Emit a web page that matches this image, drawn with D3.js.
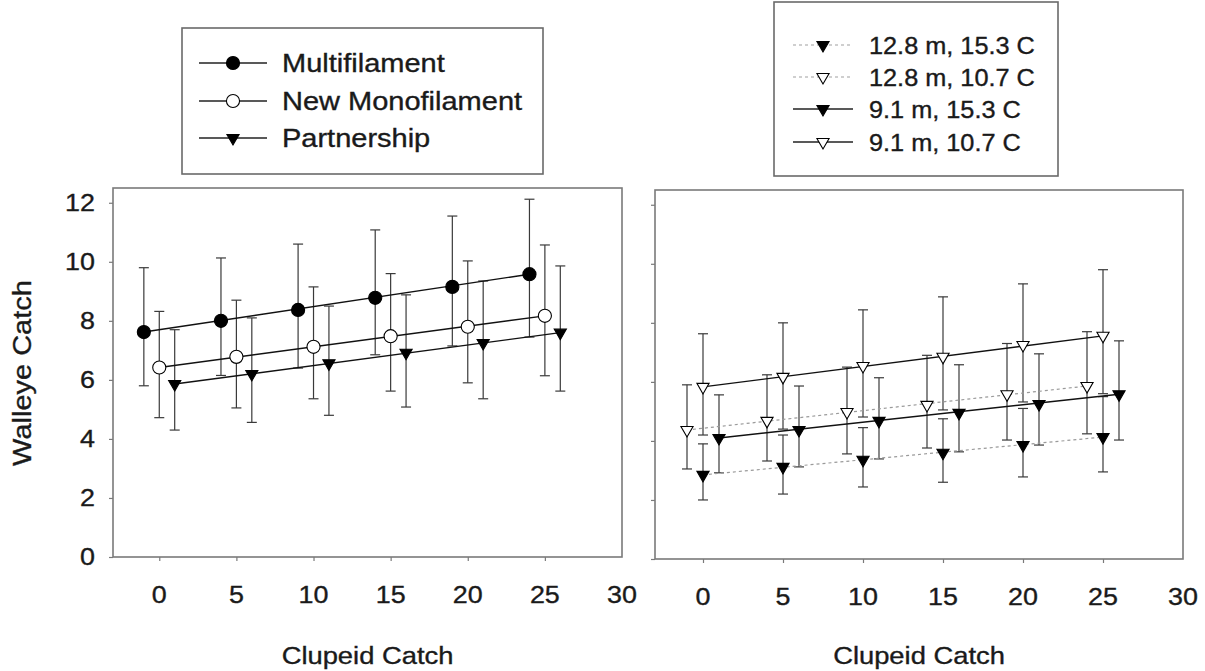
<!DOCTYPE html>
<html>
<head>
<meta charset="utf-8">
<script src="https://cdn.jsdelivr.net/npm/d3@7"></script>
<style>
  body { margin: 0; background: #fff; }
  text { font-family: "Liberation Sans", Arial, sans-serif; fill: #1a1a1a; stroke: #1a1a1a; stroke-width: 0.35; }
</style>
</head>
<body>
<svg id="chart" width="1205" height="671"></svg>
<script>
// CHART DATA

const clupeidCatch = [0, 5, 10, 15, 20, 25];
const xTicks = [0, 5, 10, 15, 20, 25, 30];
const yTicks = [0, 2, 4, 6, 8, 10, 12];

// left panel: gear type
const multiMean = [7.62, 8.0, 8.37, 8.78, 9.15, 9.58];
const multiHigh = [9.8, 10.13, 10.6, 11.08, 11.55, 12.12];
const multiLow = [5.8, 6.15, 6.4, 6.85, 7.15, 7.45];
const monoMean = [6.42, 6.78, 7.12, 7.48, 7.8, 8.17];
const monoHigh = [8.32, 8.7, 9.15, 9.6, 10.03, 10.57];
const monoLow = [4.72, 5.05, 5.36, 5.62, 5.9, 6.14];
const partMean = [5.86, 6.2, 6.56, 6.92, 7.25, 7.6];
const partHigh = [7.7, 8.1, 8.5, 8.88, 9.35, 9.86];
const partLow = [4.3, 4.56, 4.8, 5.08, 5.36, 5.62];

// right panel: depth and temperature
const deepWarmMean = [2.85, 3.12, 3.36, 3.6, 3.86, 4.13];
const deepWarmHigh = [3.9, 4.2, 4.45, 4.75, 5.1, 5.5];
const deepWarmLow = [2.0, 2.2, 2.44, 2.6, 2.78, 2.95];
const deepCoolMean = [4.37, 4.68, 4.98, 5.22, 5.58, 5.86];
const deepCoolHigh = [5.9, 6.24, 6.5, 6.9, 7.3, 7.7];
const deepCoolLow = [3.05, 3.32, 3.56, 3.76, 4.03, 4.24];
const shallowWarmMean = [4.1, 4.37, 4.68, 4.95, 5.25, 5.58];
const shallowWarmHigh = [5.56, 5.86, 6.14, 6.58, 6.95, 7.39];
const shallowWarmLow = [2.92, 3.12, 3.39, 3.63, 3.86, 4.03];
const shallowCoolMean = [5.83, 6.17, 6.54, 6.85, 7.25, 7.56];
const shallowCoolHigh = [7.63, 8.0, 8.44, 8.88, 9.32, 9.8];
const shallowCoolLow = [4.2, 4.4, 4.81, 5.05, 5.32, 5.6];

const leftSeries = [
    { label: 'Multifilament', mean: multiMean, high: multiHigh, low: multiLow, offset: -1, symbol: 'circle', fill: '#000', dotted: false },
    { label: 'New Monofilament', mean: monoMean, high: monoHigh, low: monoLow, offset: 0, symbol: 'circle', fill: '#fff', dotted: false },
    { label: 'Partnership', mean: partMean, high: partHigh, low: partLow, offset: 1, symbol: 'triangle', fill: '#000', dotted: false }
];
const rightSeries = [
    { label: '12.8 m, 15.3 C', mean: deepWarmMean, high: deepWarmHigh, low: deepWarmLow, offset: 0, symbol: 'triangle', fill: '#000', dotted: true },
    { label: '12.8 m, 10.7 C', mean: deepCoolMean, high: deepCoolHigh, low: deepCoolLow, offset: -1, symbol: 'triangle', fill: '#fff', dotted: true },
    { label: '9.1 m, 15.3 C', mean: shallowWarmMean, high: shallowWarmHigh, low: shallowWarmLow, offset: 1, symbol: 'triangle', fill: '#000', dotted: false },
    { label: '9.1 m, 10.7 C', mean: shallowCoolMean, high: shallowCoolHigh, low: shallowCoolLow, offset: 0, symbol: 'triangle', fill: '#fff', dotted: false }
];

const svg = d3.select('#chart');
const FRAME = '#7a7a7a';

function markerPath(kind) {
    if (kind === 'circle') return d3.symbol(d3.symbolCircle, 135)();
    return d3.symbol(d3.symbolTriangle, 64)();
}

function drawMarker(g, kind, fill, x, y) {
    g.append('path')
        .attr('d', markerPath(kind))
        .attr('transform', `translate(${x},${y})` + (kind === 'triangle' ? ' rotate(180)' : ''))
        .attr('fill', fill)
        .attr('stroke', '#000')
        .attr('stroke-width', 1.1);
}

// text in the figure is a bit wider than Liberation Sans, so stretch it
function stretchedText(g, x, y, str, size, anchor, rotate, sx = 1.12) {
    return g.append('text')
        .attr('transform', `translate(${x},${y})` + (rotate ? ` rotate(${rotate})` : '') + ` scale(${sx},1)`)
        .attr('font-size', size)
        .attr('text-anchor', anchor)
        .text(str);
}

function drawPanel(box, series, showYLabels) {
    const x = d3.scaleLinear().domain([-3, 30]).range([box.left, box.right]);
    const y = d3.scaleLinear().domain([0, 12.5]).range([box.bottom, box.top]);
    const g = svg.append('g');

    // frame
    g.append('rect')
        .attr('x', box.left).attr('y', box.top)
        .attr('width', box.right - box.left).attr('height', box.bottom - box.top)
        .attr('fill', 'none').attr('stroke', FRAME).attr('stroke-width', 1.6);

    // axes (outward ticks, no domain line)
    const xAxis = g.append('g')
        .attr('transform', `translate(0,${box.bottom})`)
        .call(d3.axisBottom(x).tickValues(xTicks.slice(0, -1)).tickSize(4).tickFormat(''));
    const yAxis = g.append('g')
        .attr('transform', `translate(${box.left},0)`)
        .call(d3.axisLeft(y).tickValues(yTicks).tickSize(4).tickFormat(''));
    [xAxis, yAxis].forEach(a => {
        a.select('.domain').remove();
        a.selectAll('line').attr('stroke', FRAME).attr('stroke-width', 1.2);
    });

    xTicks.forEach(t => stretchedText(g, x(t), box.bottom + 46, t, 24, 'middle'));
    if (showYLabels) {
        yTicks.forEach(t => stretchedText(g, box.left - 18, y(t) + 8, t, 24, 'end'));
    }
    stretchedText(g, (box.left + box.right) / 2, 664, 'Clupeid Catch', 24, 'middle', 0, 1.14);

    // error bars
    series.forEach(s => {
        clupeidCatch.forEach((c, i) => {
            const cx = x(c + s.offset);
            g.append('line')
                .attr('x1', cx).attr('x2', cx)
                .attr('y1', y(s.high[i])).attr('y2', y(s.low[i]))
                .attr('stroke', '#3a3a3a').attr('stroke-width', 1.2);
            [s.high[i], s.low[i]].forEach(v => {
                g.append('line')
                    .attr('x1', cx - 5).attr('x2', cx + 5)
                    .attr('y1', y(v)).attr('y2', y(v))
                    .attr('stroke', '#3a3a3a').attr('stroke-width', 1.2);
            });
        });
    });

    // fitted lines
    const line = d3.line()
        .x(d => x(d.c))
        .y(d => y(d.v));
    series.forEach(s => {
        const pts = clupeidCatch.map((c, i) => ({ c: c + s.offset, v: s.mean[i] }));
        g.append('path')
            .attr('d', line([pts[0], pts[pts.length - 1]]))
            .attr('fill', 'none')
            .attr('stroke', s.dotted ? '#9a9a9a' : '#111')
            .attr('stroke-width', s.dotted ? 1.2 : 1.4)
            .attr('stroke-dasharray', s.dotted ? '3,3' : null);
    });

    // markers
    series.forEach(s => {
        clupeidCatch.forEach((c, i) => drawMarker(g, s.symbol, s.fill, x(c + s.offset), y(s.mean[i])));
    });
}

function drawLegend(box, series, rows, lineX, textX, size, sx) {
    const g = svg.append('g');
    g.append('rect')
        .attr('x', box.left).attr('y', box.top)
        .attr('width', box.right - box.left).attr('height', box.bottom - box.top)
        .attr('fill', '#fff').attr('stroke', '#6a6a6a').attr('stroke-width', 1.6);
    series.forEach((s, i) => {
        g.append('line')
            .attr('x1', lineX[0]).attr('x2', lineX[1])
            .attr('y1', rows[i]).attr('y2', rows[i])
            .attr('stroke', s.dotted ? '#a0a0a0' : '#222')
            .attr('stroke-width', s.dotted ? 1.2 : 1.3)
            .attr('stroke-dasharray', s.dotted ? '3,3' : null);
        drawMarker(g, s.symbol, s.fill, (lineX[0] + lineX[1]) / 2, rows[i]);
        stretchedText(g, textX, rows[i] + 9, s.label, size, 'start', 0, sx);
    });
}

drawPanel({ left: 113, right: 622, top: 188, bottom: 557 }, leftSeries, true);
drawPanel({ left: 655, right: 1183, top: 190, bottom: 559 }, rightSeries, false);

stretchedText(svg, 31, 373, 'Walleye Catch', 25, 'middle', -90, 1.16);

drawLegend({ left: 182, right: 543, top: 28, bottom: 174 }, leftSeries, [63, 101, 138], [199, 267], 282, 25, 1.16);
drawLegend({ left: 774, right: 1058, top: 2, bottom: 176 }, rightSeries, [45, 77, 109, 142], [793, 853], 869, 23, 1.1);
</script>
</body>
</html>
